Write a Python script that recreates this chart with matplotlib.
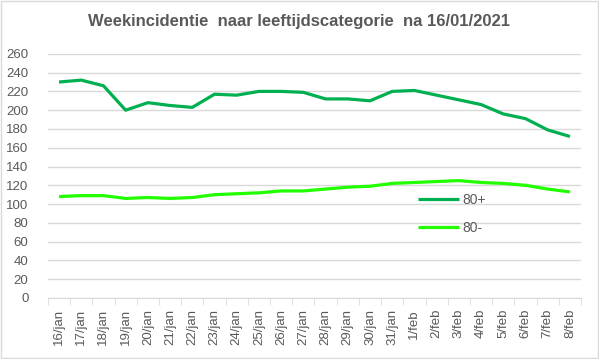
import numpy as np
import matplotlib.pyplot as plt
from matplotlib.patches import Rectangle

plt.rcParams['font.family'] = ['Liberation Sans', 'DejaVu Sans']

# categorieen (x-as)
dagen = ['16/jan', '17/jan', '18/jan', '19/jan', '20/jan', '21/jan', '22/jan',
         '23/jan', '24/jan', '25/jan', '26/jan', '27/jan', '28/jan', '29/jan',
         '30/jan', '31/jan', '1/feb', '2/feb', '3/feb', '4/feb', '5/feb',
         '6/feb', '7/feb', '8/feb']

# weekincidentie per leeftijdscategorie
plus80 = [230, 232, 226, 200, 208, 205, 203, 217, 216, 220, 220, 219,
          212, 212, 210, 220, 221, 216, 211, 206, 196, 191, 179, 172]
min80 = [108, 109, 109, 106, 107, 106, 107, 110, 111, 112, 114, 114,
         116, 118, 119, 122, 123, 124, 125, 123, 122, 120, 116, 113]

grijs = '#595959'

fig = plt.figure(figsize=(5.99, 3.59), dpi=100)
ax = fig.add_axes([0.080, 0.170, 0.890, 0.680])

x = np.arange(len(dagen))
ax.plot(x, plus80, color='#00b050', lw=2.3, label='80+', solid_capstyle='butt')
ax.plot(x, min80, color='#22ff00', lw=2.3, label='80-', solid_capstyle='butt')

ax.set_xlim(-0.5, len(dagen) - 0.5)
ax.set_ylim(0, 260)
ax.set_yticks(np.arange(0, 261, 20))
ax.grid(axis='y', color='#d9d9d9', lw=1)
ax.set_axisbelow(True)

for s in ['top', 'right', 'left']:
    ax.spines[s].set_visible(False)
ax.spines['bottom'].set_color('#d9d9d9')

# labels op de categorieen, streepjes tussen de categorieen
ax.set_xticks(x)
ax.set_xticklabels(dagen, rotation=90, fontsize=9.5, color=grijs)
ax.tick_params(axis='x', length=0, pad=8)
ax.set_xticks(np.arange(-0.5, len(dagen), 1), minor=True)
ax.tick_params(axis='x', which='minor', length=5, color='#d9d9d9')
ax.tick_params(axis='y', length=0, labelsize=9.5, labelcolor=grijs, pad=14)

fig.suptitle('Weekincidentie  naar leeftijdscategorie  na 16/01/2021',
             x=0.5, y=0.96, fontsize=12, fontweight='bold', color=grijs)

ax.legend(loc='upper left', bbox_to_anchor=(0.67, 0.48), frameon=False,
          handlelength=3.0, labelspacing=1.0, fontsize=10, labelcolor=grijs,
          handletextpad=0.2)

# kader rond de grafiek
fig.patches.append(Rectangle((0.002, 0.003), 0.996, 0.994, transform=fig.transFigure,
                             fill=False, edgecolor='#d9d9d9', lw=1))

fig.savefig('out.png', dpi=100)
